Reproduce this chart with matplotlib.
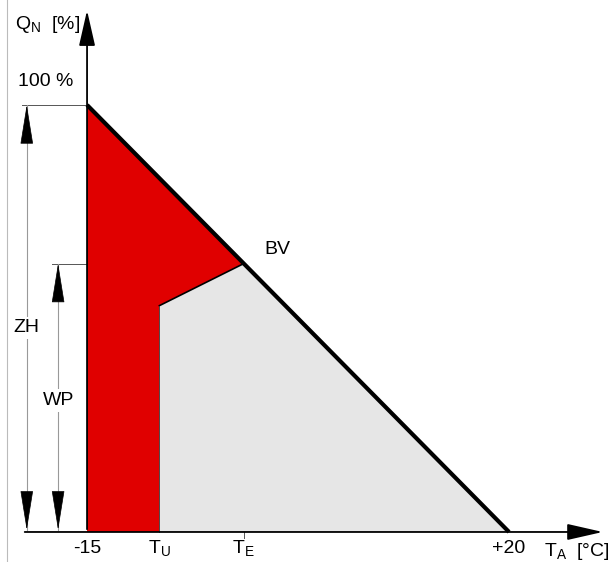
import matplotlib.pyplot as plt
from matplotlib.patches import Polygon

plt.rcParams['font.family'] = ['Liberation Sans', 'DejaVu Sans']

# data (temperature in °C, heat load in %)
t_min, t_u, t_e, t_max = -15, -9, -2, 20
q_full = 100
q_bv = 100 * (t_max - t_e) / (t_max - t_min)   # balance point on the load line
q_tu = 53                                       # heat pump output at T_U

x_labels = ['-15', '$\\mathregular{T_U}$', '$\\mathregular{T_E}$', '+20']
x_pos = [t_min, t_u, t_e, t_max]

fig = plt.figure(figsize=(6.12, 5.62), dpi=100)
ax = fig.add_axes([0, 0, 1, 1])
ax.set_xlim(-22.22, 28.54)
ax.set_ylim(-7.03, 124.58)
ax.axis('off')

# red: supplementary heating (ZH), grey: heat pump (WP)
red = Polygon([(t_min, q_full), (t_e, q_bv), (t_u, q_tu), (t_u, 0), (t_min, 0)],
              closed=True, fc='#e00000', ec='none', zorder=1)
grey = Polygon([(t_u, q_tu), (t_e, q_bv), (t_max, 0), (t_u, 0)],
               closed=True, fc='#e6e6e6', ec='none', zorder=1)
ax.add_patch(red)
ax.add_patch(grey)
ax.plot([t_u, t_e], [q_tu, q_bv], color='black', lw=1.2, zorder=2)
ax.plot([t_u, t_u], [0, q_tu], color='#333333', lw=0.6, zorder=2)
ax.plot([t_min, t_max], [q_full, 0], color='black', lw=3, zorder=3, solid_capstyle='butt')

# axes with arrows
axis_arrow = dict(arrowstyle='-|>,head_length=2.2,head_width=0.5', color='black', lw=1.3)
ax.annotate('', xy=(28.0, 0), xytext=(-20.4, 0), arrowprops=axis_arrow, zorder=4)
ax.annotate('', xy=(t_min, 122.8), xytext=(t_min, 0), arrowprops=axis_arrow, zorder=4)

# helper lines
ax.plot([-20.4, t_min], [q_full, q_full], color='#555555', lw=0.7)
ax.plot([-17.9, t_min], [q_bv, q_bv], color='#555555', lw=0.7)
ax.plot([t_e, t_e], [-1.5, 0], color='#555555', lw=0.7)
ax.plot([-21.6, -21.6], [-7.03, 124.58], color='#bbbbbb', lw=0.8)

# dimension arrows: grey shaft, black heads
head = dict(arrowstyle='-|>,head_length=2.6,head_width=0.42', color='black', lw=0.5,
            shrinkA=0, shrinkB=0)
for xd, top in [(-20.0, q_full), (-17.4, q_bv)]:
    ax.plot([xd, xd], [0.5, top], color='#999999', lw=0.8)
    ax.annotate('', xy=(xd, top), xytext=(xd, top - 6), arrowprops=head)
    ax.annotate('', xy=(xd, 0.5), xytext=(xd, 6.5), arrowprops=head)
ax.text(-20.0, 47.8, 'ZH', fontsize=14, ha='center', va='center',
        bbox=dict(fc='white', ec='none', pad=2))
ax.text(-17.4, 30.8, 'WP', fontsize=14, ha='center', va='center',
        bbox=dict(fc='white', ec='none', pad=2))

# labels
for xp, lab in zip(x_pos, x_labels):
    ax.text(xp, -3.8, lab, fontsize=14, ha='center', va='center')
ax.text(25.6, -4.6, '$\\mathregular{T_A}$  [°C]', fontsize=14, ha='center', va='center')
ax.text(-18.3, 118.8, '$\\mathregular{Q_N}$  [%]', fontsize=14, ha='center', va='center')
ax.text(-18.4, 103.5, '100 %', fontsize=14, ha='center', va='bottom')
ax.text(-0.3, q_bv + 1.2, 'BV', fontsize=14, ha='left', va='bottom')

fig.savefig('out.png', dpi=100)
